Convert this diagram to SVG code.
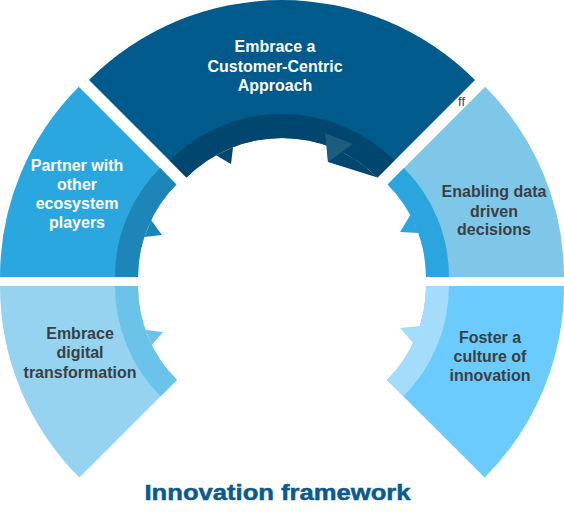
<svg xmlns="http://www.w3.org/2000/svg" width="564" height="521" viewBox="0 0 564 521">
<style>
.lbl{font-family:"Liberation Sans",Arial,sans-serif;font-weight:bold;font-size:16px;text-anchor:middle}
.w{fill:#ffffff}
.d{fill:#3a3f44}
</style>
<rect width="564" height="521" fill="#ffffff"/>
<g id="node-customer">
<path d="M 89 80 A 273 273 0 0 1 475 80 L 377.5 177.5 A 135 135 0 0 0 186.5 177.5 Z" fill="#005a8c"/>
<path d="M 169.6 160.6 A 159 159 0 0 1 394.4 160.6 L 377.5 177.5 A 135 135 0 0 0 186.5 177.5 Z" fill="#00466f"/>
<polygon points="216,155.3 231,164 233,147.2" fill="#00466f"/>
<path d="M 327 145.7 L 328 162 L 377.5 177.5 A 135 135 0 0 0 327 145.7 Z" fill="#00466f"/>
<polygon points="325,133 353,144 328,162" fill="#1c5c7d"/>
<text class="lbl w" x="275" y="52">Embrace a</text>
<text class="lbl w" x="275" y="72">Customer-Centric</text>
<text class="lbl w" x="275" y="91">Approach</text>
</g>
<g id="node-partner">
<path d="M 0 277 A 269 269 0 0 1 78.8 86.8 L 176.4 184.4 A 131 131 0 0 0 138 277 Z" fill="#2aa7df"/>
<path d="M 115 277 A 154 154 0 0 1 160.1 168.1 L 176.4 184.4 A 131 131 0 0 0 138 277 Z" fill="#1d85b7"/>
<polygon points="151.1,220 162,235 144.3,237" fill="#1d85b7"/>
<text class="lbl w" x="77" y="171">Partner with</text>
<text class="lbl w" x="77" y="190">other</text>
<text class="lbl w" x="77" y="209">ecosystem</text>
<text class="lbl w" x="77" y="228">players</text>
</g>
<g id="node-data">
<path d="M 564 277 A 269 269 0 0 0 485.2 86.8 L 387.6 184.4 A 131 131 0 0 1 426 277 Z" fill="#7fc7e9"/>
<path d="M 449 277 A 154 154 0 0 0 403.9 168.1 L 387.6 184.4 A 131 131 0 0 1 426 277 Z" fill="#2aa5dd"/>
<polygon points="410.4,215 400,232 419,233" fill="#2aa5dd"/>
<text class="lbl d" x="494" y="197">Enabling data</text>
<text class="lbl d" x="494" y="217">driven</text>
<text class="lbl d" x="494" y="235">decisions</text>
<text x="458" y="106" font-family="Liberation Sans, Arial, sans-serif" font-size="13" fill="#444444">ff</text>
</g>
<g id="node-digital">
<path d="M 0 286 A 271 271 0 0 0 79.4 477.6 L 177 380 A 133 133 0 0 1 138 286 Z" fill="#95d3f0"/>
<path d="M 115 286 A 156 156 0 0 0 160.7 396.3 L 177 380 A 133 133 0 0 1 138 286 Z" fill="#6bc3ea"/>
<polygon points="145.5,330 163,332 151.8,345" fill="#6bc3ea"/>
<text class="lbl d" x="80" y="339">Embrace</text>
<text class="lbl d" x="80" y="358">digital</text>
<text class="lbl d" x="80" y="378">transformation</text>
</g>
<g id="node-culture">
<path d="M 564 286 A 271 271 0 0 1 484.6 477.6 L 387 380 A 133 133 0 0 0 426 286 Z" fill="#6bcbfc"/>
<path d="M 449 286 A 156 156 0 0 1 403.3 396.3 L 387 380 A 133 133 0 0 0 426 286 Z" fill="#a4dcfb"/>
<polygon points="420,326 400,328 413.2,343" fill="#a4dcfb"/>
<text class="lbl d" x="490" y="343">Foster a</text>
<text class="lbl d" x="490" y="362">culture of</text>
<text class="lbl d" x="490" y="381">innovation</text>
</g>
<g id="connectors"></g>
<g id="title">
<text x="277.5" y="500" font-family="Liberation Sans, Arial, sans-serif" font-weight="bold" font-size="22" fill="#0a5a8e" stroke="#0a5a8e" stroke-width="0.5" text-anchor="middle" textLength="266" lengthAdjust="spacingAndGlyphs">Innovation framework</text>
</g>
</svg>
